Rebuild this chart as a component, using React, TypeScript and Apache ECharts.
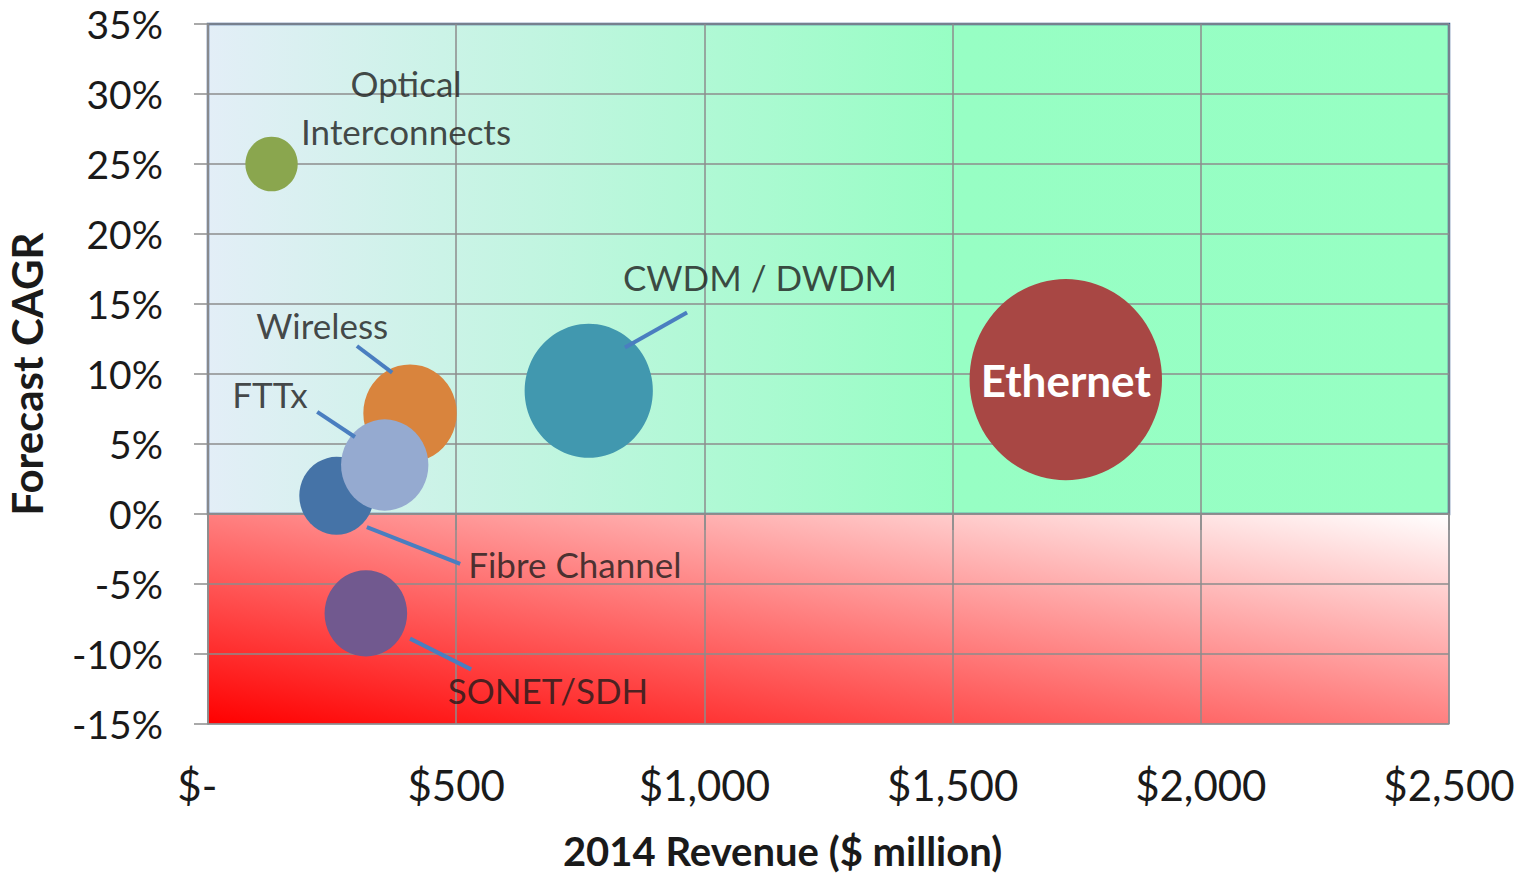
import React, { useEffect, useRef } from 'react';
import * as echarts from 'echarts';

// ---- Data ----
const technologies = ['Optical Interconnects', 'Ethernet', 'CWDM / DWDM', 'Wireless', 'Fibre Channel', 'FTTx', 'SONET/SDH'];
const revenue2014 = [128, 1728, 767, 407, 259, 356, 318]; // $ million (x and bubble size)
const forecastCagr = [25.0, 9.6, 8.8, 7.2, 1.3, 3.5, -7.1]; // %
const bubbleColors = ['#8AA64E', '#A84744', '#4198AF', '#D9843D', '#4573A7', '#95AAD0', '#71598F'];

const xTickValues = [0, 500, 1000, 1500, 2000, 2500];
const yTickValues = [-15, -10, -5, 0, 5, 10, 15, 20, 25, 30, 35];

// Background zones: [xStart, yStart, xEnd, yEnd]
const zones = [
  [0, 0, 2500, 35],
  [0, -15, 2500, 0],
];

// Callout labels (data coordinates)
const calloutTexts = ['Optical\nInterconnects', 'CWDM / DWDM', 'Wireless', 'FTTx', 'Fibre Channel', 'SONET/SDH'];
const calloutAnchors = [
  [399, 29.1],
  [1112, 16.9],
  [230, 13.5],
  [125, 8.6],
  [739, -3.6],
  [685, -12.6],
];
const leaderLines = [
  [[965, 14.4], [840, 11.9]],
  [[300, 12.0], [371, 10.1]],
  [[220, 7.3], [296, 5.5]],
  [[320, -0.93], [508, -3.57]],
  [[407, -8.9], [530, -11.1]],
];

const FONT = 'Lato';

export default function App() {
  const ref = useRef<HTMLDivElement>(null);
  useEffect(() => {
    if (!ref.current) return;
    const chart = echarts.init(ref.current, undefined, { renderer: 'svg' });

    const bubbleData = technologies.map((name, i) => ({
      name,
      value: [revenue2014[i], forecastCagr[i], revenue2014[i]],
      itemStyle: { color: bubbleColors[i], opacity: 1 },
      label:
        name === 'Ethernet'
          ? {
              show: true,
              position: 'inside',
              formatter: '{b}',
              color: '#ffffff',
              fontFamily: FONT,
              fontWeight: 'bold',
              fontSize: 44,
            }
          : { show: false },
    }));

    const option: any = {
      animation: false,
      backgroundColor: '#ffffff',
      grid: { left: 208, right: 75, top: 24, bottom: 151, containLabel: false, outerBoundsMode: 'none' },
      xAxis: {
        type: 'value',
        min: 0,
        max: 2500,
        interval: 500,
        z: 2,
        name: '2014 Revenue ($ million)',
        nameLocation: 'middle',
        nameGap: 107,
        nameTextStyle: {
          fontFamily: FONT,
          fontWeight: 'bold',
          fontSize: 40,
          color: '#1a1a1a',
          padding: [0, 92, 0, 0],
        },
        axisLine: { show: true, lineStyle: { color: '#8c8c8c', width: 1.5 } },
        axisTick: { show: true, length: 16, lineStyle: { color: '#8c8c8c', width: 1.5 } },
        splitLine: { show: true, lineStyle: { color: '#8c8c8c', width: 1.5 } },
        axisLabel: {
          margin: 40,
          fontFamily: FONT,
          fontSize: 42,
          color: '#1a1a1a',
          customValues: xTickValues,
          formatter: (v: number) => (v === 0 ? '$-\u00a0\u00a0' : '$' + v.toLocaleString('en-US')),
        },
      },
      yAxis: {
        type: 'value',
        min: -15,
        max: 35,
        interval: 5,
        z: 2,
        name: 'Forecast CAGR',
        nameLocation: 'middle',
        nameGap: 160,
        nameTextStyle: {
          fontFamily: FONT,
          fontWeight: 'bold',
          fontSize: 42,
          color: '#1a1a1a',
        },
        axisLine: { show: true, lineStyle: { color: '#8c8c8c', width: 1.5 } },
        axisTick: { show: true, length: 14, lineStyle: { color: '#8c8c8c', width: 1.5 } },
        splitLine: { show: true, lineStyle: { color: '#8c8c8c', width: 1.5 } },
        axisLabel: {
          margin: 45,
          fontFamily: FONT,
          fontSize: 39,
          color: '#1a1a1a',
          customValues: yTickValues,
          formatter: (v: number) => v + '%',
        },
      },
      series: [
        {
          type: 'custom',
          z: 1,
          silent: true,
          data: zones,
          encode: { x: [0, 2], y: [1, 3] },
          renderItem: (params: any, api: any) => {
            const p0 = api.coord([api.value(0), api.value(3)]);
            const p1 = api.coord([api.value(2), api.value(1)]);
            const positive = api.value(1) >= 0;
            const fill = positive
              ? new echarts.graphic.LinearGradient(0, 0, 1, 0, [
                  { offset: 0, color: '#E3EEF7' },
                  { offset: 0.6, color: '#97FEC4' },
                  { offset: 1, color: '#96FFC3' },
                ])
              : new echarts.graphic.LinearGradient(0, 1, 1, 0, [
                  { offset: 0, color: '#FF0000' },
                  { offset: 1, color: '#FFFFFF' },
                ]);
            return {
              type: 'rect',
              shape: { x: p0[0], y: p0[1], width: p1[0] - p0[0], height: p1[1] - p0[1] },
              style: {
                fill,
                stroke: positive ? '#3A5E93' : '#8E93AC',
                lineWidth: positive ? 2.5 : 1.2,
              },
            };
          },
        },
        {
          type: 'scatter',
          z: 3,
          data: bubbleData,
          symbol: 'circle',
          itemStyle: { opacity: 1 },
          symbolSize: (val: number[]) => {
            const d = 4.63 * Math.sqrt(val[2]);
            return [d, d * 1.045];
          },
        },
        {
          type: 'lines',
          coordinateSystem: 'cartesian2d',
          z: 4,
          silent: true,
          lineStyle: { color: '#4A7EC0', width: 4, opacity: 1 },
          data: leaderLines.map((c) => ({ coords: c })),
        },
        {
          type: 'scatter',
          z: 5,
          silent: true,
          symbol: 'circle',
          symbolSize: 1,
          itemStyle: { color: 'rgba(0,0,0,0)' },
          data: calloutAnchors.map((p, i) => ({ name: calloutTexts[i], value: p })),
          label: {
            show: true,
            position: 'inside',
            formatter: '{b}',
            fontFamily: FONT,
            fontSize: 35,
            lineHeight: 48,
            color: '#1a1a1a',
            align: 'center',
            verticalAlign: 'middle',
          },
        },
      ],
    };

    chart.setOption(option);
    return () => chart.dispose();
  }, []);

  return (
    <div
      ref={ref}
      style={{ position: 'absolute', left: 0, top: 0, width: 1524, height: 875 }}
    />
  );
}
